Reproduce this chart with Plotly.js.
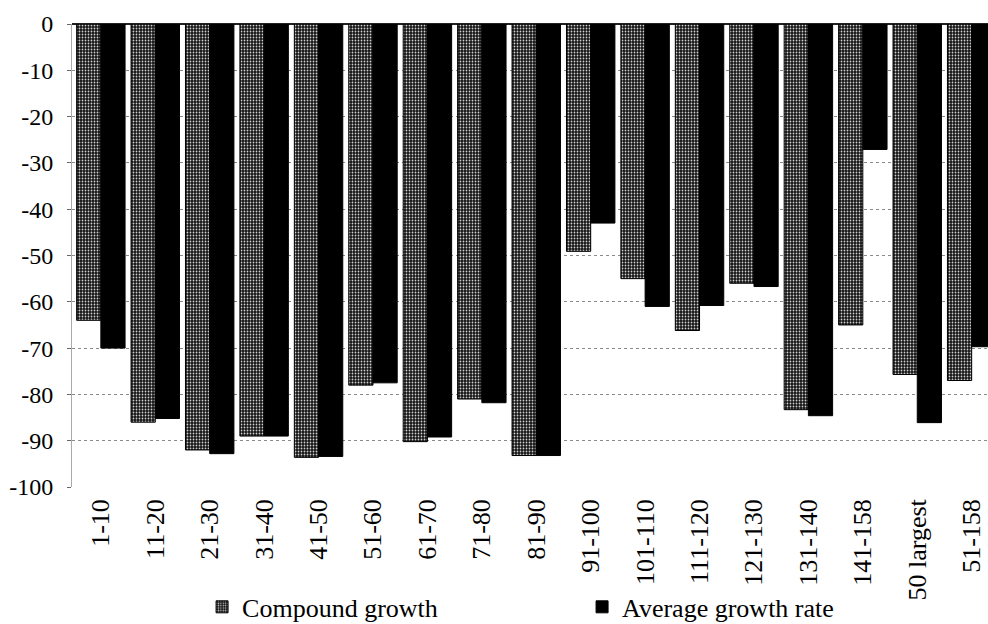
<!DOCTYPE html>
<html>
<head>
<meta charset="utf-8">
<script src="https://cdn.plot.ly/plotly-3.0.1.min.js"></script>
<style>
html,body{margin:0;padding:0;background:#fff;font-family:'Liberation Serif';}
#chart{width:988px;height:624px;}
#chart svg text{font-family:'Liberation Serif', serif !important;}
</style>
</head>
<body>
<div id="chart"></div>
<script>
const categories = ["1-10","11-20","21-30","31-40","41-50","51-60","61-70","71-80","81-90","91-100","101-110","111-120","121-130","131-140","141-158","50 largest","51-158"];
const compoundGrowth = [-64, -86, -92, -89, -93.6, -78, -90.2, -81, -93.2, -49.1, -55, -66.2, -56, -83.3, -65, -75.7, -77];
const averageGrowthRate = [-70, -85.2, -92.8, -89, -93.4, -77.5, -89.2, -81.8, -93.2, -43, -61, -60.8, -56.7, -84.6, -27.1, -86.1, -69.7];
const yTicks = [0, -10, -20, -30, -40, -50, -60, -70, -80, -90, -100];

const font = "Liberation Serif";

const traces = [
  {
    type: "bar", name: "Compound growth", x: categories, y: compoundGrowth,
    marker: {
      color: "#2a2a2a",
      line: {color: "#000", width: 1},
      pattern: {shape: ".", bgcolor: "#141414", fgcolor: "#cfcfcf", size: 3, solidity: 0.28}
    }
  },
  {
    type: "bar", name: "Average growth rate", x: categories, y: averageGrowthRate,
    marker: {color: "#000", line: {color: "#000", width: 1}}
  }
];

const layout = {
  width: 988, height: 624,
  margin: {l: 72, r: 0, t: 24, b: 137, autoexpand: false},
  paper_bgcolor: "#fff", plot_bgcolor: "#fff",
  font: {family: font, size: 24},
  barmode: "group", bargap: 0.11, bargroupgap: 0,
  showlegend: true,
  legend: {
    orientation: "h", x: 0.142, xanchor: "left", y: -0.259, yanchor: "middle",
    entrywidth: 335, entrywidthmode: "pixels",
    font: {family: font, size: 26, color: "#000000"},
    bgcolor: "rgba(0,0,0,0)", traceorder: "normal"
  },
  xaxis: {
    type: "category", range: [-0.53, 16.3], automargin: false,
    tickangle: -90, ticks: "", showgrid: false, showline: false, zeroline: false,
    ticklabelstandoff: 6,
    tickfont: {family: font, size: 26, color: "#000000"}
  },
  yaxis: {
    range: [-100, 0], tickvals: yTicks, ticktext: yTicks.map(String), automargin: false,
    showgrid: true, gridcolor: "#8a8a8a", griddash: "dot", gridwidth: 1,
    zeroline: true, zerolinecolor: "#222", zerolinewidth: 2,
    showline: true, linecolor: "#aaaaaa", linewidth: 1,
    ticks: "outside", ticklen: 4, tickcolor: "#666",
    ticklabelstandoff: 9,
    tickfont: {family: font, size: 24, color: "#000000"}
  }
};

function draw() {
  Plotly.newPlot("chart", traces, layout, {displayModeBar: false, staticPlot: true});
}
if (document.fonts && document.fonts.load) {
  document.fonts.load("24px 'Liberation Serif'").then(draw, draw);
} else {
  draw();
}
</script>
</body>
</html>
